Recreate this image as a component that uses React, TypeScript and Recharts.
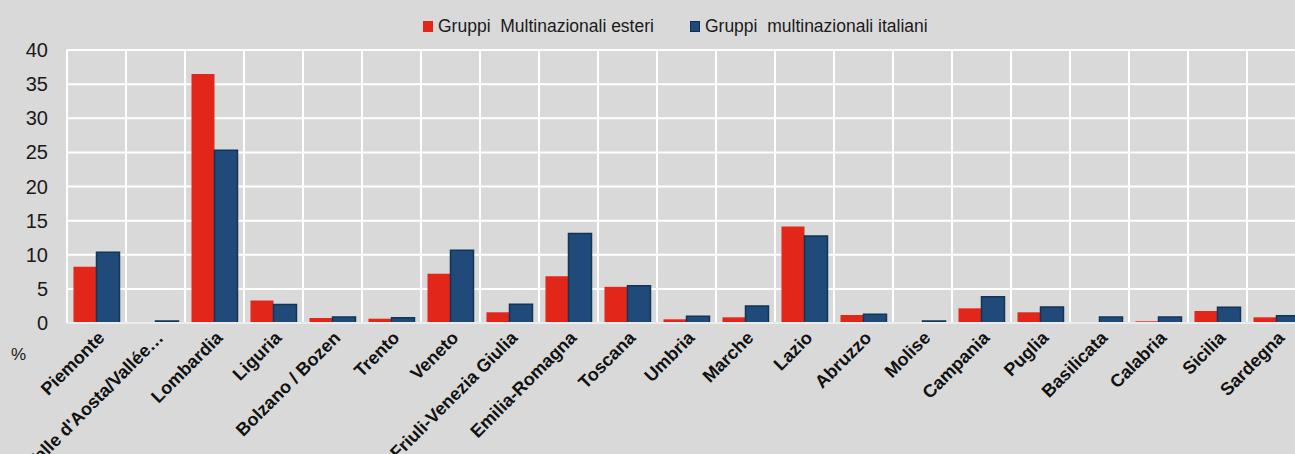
import { BarChart, Bar, XAxis, YAxis, CartesianGrid } from "recharts";

const regions = [
  "Piemonte",
  "Valle d'Aosta/Vallée d'Aoste",
  "Lombardia",
  "Liguria",
  "Bolzano / Bozen",
  "Trento",
  "Veneto",
  "Friuli-Venezia Giulia",
  "Emilia-Romagna",
  "Toscana",
  "Umbria",
  "Marche",
  "Lazio",
  "Abruzzo",
  "Molise",
  "Campania",
  "Puglia",
  "Basilicata",
  "Calabria",
  "Sicilia",
  "Sardegna",
];

const esteri = [
  8.25, 0, 36.5, 3.3, 0.73, 0.63, 7.2, 1.57, 6.85, 5.3, 0.54, 0.83, 14.15,
  1.17, 0, 2.15, 1.57, 0.15, 0.25, 1.76, 0.83,
];

const italiani = [
  10.35, 0.3, 25.3, 2.7, 0.88, 0.78, 10.65, 2.74, 13.1, 5.47, 0.98, 2.49,
  12.75, 1.27, 0.3, 3.86, 2.34, 0.88, 0.88, 2.3, 1.07,
];

const yTicks = [0, 5, 10, 15, 20, 25, 30, 35, 40];

const seriesNames = ["Gruppi  Multinazionali esteri", "Gruppi  multinazionali italiani"];

const data = regions.map((name, i) => ({
  name,
  esteri: esteri[i],
  italiani: italiani[i],
}));

const RED = "#e3261a";
const BLUE = "#204a7a";
const FONT = "'Liberation Sans', Arial, sans-serif";

// long region names get cut like in the original
const shortLabel = (s: string) => (s.length > 22 ? s.slice(0, 20) + "…" : s);

function Legendish() {
  const item = (color: string, label: string, stroke?: string) => (
    <div style={{ display: "flex", alignItems: "center", marginRight: 36 }}>
      <span
        style={{
          width: 10,
          height: 11,
          background: color,
          border: stroke ? `1px solid ${stroke}` : "none",
          marginRight: 5,
          boxSizing: "border-box",
        }}
      />
      <span style={{ whiteSpace: "pre" }}>{label}</span>
    </div>
  );
  return (
    <div
      style={{
        position: "absolute",
        top: 16,
        left: 423,
        display: "flex",
        fontFamily: FONT,
        fontSize: 17.5,
        color: "#1a1a1a",
      }}
    >
      {item(RED, seriesNames[0])}
      {item(BLUE, seriesNames[1], "#0f2f50")}
    </div>
  );
}

export default function App() {
  const count = regions.length;
  return (
    <div
      style={{
        position: "absolute",
        left: 0,
        top: 0,
        width: 1295,
        height: 454,
        overflow: "hidden",
        background: "#d9d9d9",
      }}
    >
      <BarChart
        width={1310}
        height={454}
        data={data}
        margin={{ top: 50, right: 4, left: 0, bottom: 0 }}
        barCategoryGap="11%"
        barGap={0}
      >
        <CartesianGrid
          stroke="#ffffff"
          strokeWidth={2}
          verticalCoordinatesGenerator={({ offset }: any) =>
            Array.from({ length: count + 1 }, (_, i) => offset.left + (i * offset.width) / count)
          }
        />
        <XAxis
          dataKey="name"
          interval={0}
          height={131}
          tickSize={0}
          tickMargin={7}
          angle={-45}
          textAnchor="end"
          axisLine={{ stroke: "#ececec", strokeWidth: 2 }}
          tickFormatter={shortLabel}
          tick={{ fill: "#111", fontSize: 18, fontWeight: 700, fontFamily: FONT }}
        />
        <YAxis
          width={67}
          domain={[0, 40]}
          ticks={yTicks}
          tickSize={0}
          tickMargin={19}
          axisLine={false}
          tick={{ fill: "#1a1a1a", fontSize: 20, fontFamily: FONT }}
        />
        <Bar dataKey="esteri" name={seriesNames[0]} fill={RED} isAnimationActive={false} />
        <Bar
          dataKey="italiani"
          name={seriesNames[1]}
          fill={BLUE}
          stroke="#123556"
          strokeWidth={1.5}
          isAnimationActive={false}
        />
      </BarChart>
      <Legendish />
      <div
        style={{
          position: "absolute",
          left: 11,
          top: 345,
          fontFamily: FONT,
          fontSize: 17,
          color: "#1a1a1a",
        }}
      >
        %
      </div>
    </div>
  );
}
